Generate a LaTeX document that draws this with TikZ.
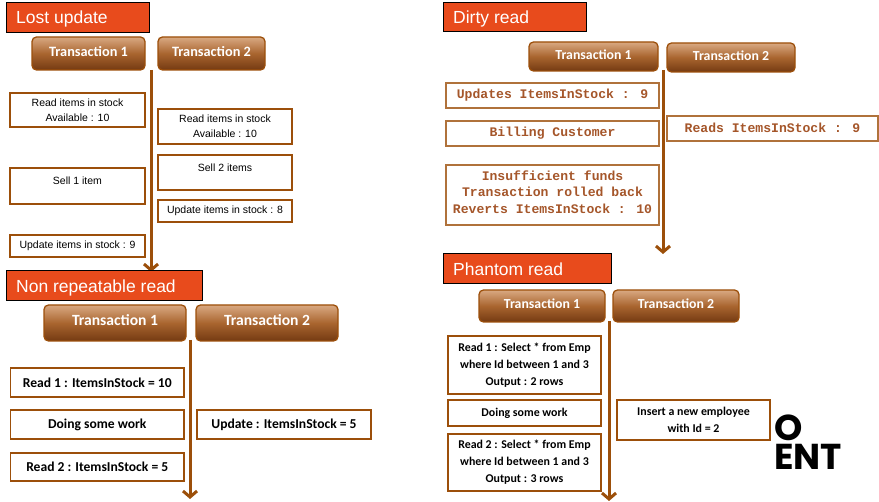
\documentclass[tikz,border=0pt]{standalone}
\usepackage{fontspec}
\setmainfont{Liberation Sans}
\newfontfamily\calib{Carlito}
\newfontfamily\cour{Liberation Mono}
\newfontfamily\logofont{Poppins}
\usetikzlibrary{arrows.meta}
\definecolor{brn}{HTML}{9C4F0A}
\definecolor{ttl}{HTML}{E84B1C}
\definecolor{gtop}{HTML}{D9A982}
\definecolor{gmid}{HTML}{A9652F}
\definecolor{gbot}{HTML}{743A12}
\definecolor{ctext}{HTML}{A5562A}
\tikzset{
  x=1pt,y=-1pt,
  rect/.style={inner sep=0pt,outer sep=0pt,align=center,anchor=center},
  titlebox/.style={rect,draw=black,line width=1pt,fill=ttl},
  txn/.style={rect,draw=brn,line width=1.3pt,rounded corners=4.5pt,top color=gtop,bottom color=gbot,middle color=gmid,text=white,text height=10pt,text depth=4pt,font=\calib\bfseries\fontsize{14.3}{16}\selectfont},
  txnsmall/.style={txn,font=\calib\bfseries\fontsize{13.8}{16}\selectfont},
  txnlarge/.style={txn,font=\calib\bfseries\fontsize{15.6}{16}\selectfont},
  stepa/.style={rect,draw=brn,line width=1.3pt,fill=white,text=black,font=\fontsize{10.5}{15}\selectfont},
  stepb/.style={rect,draw=brn,line width=1.5pt,fill=white,text=black,font=\calib\bfseries\fontsize{13.6}{17}\selectfont},
  stepc/.style={rect,draw=brn!80,line width=1.2pt,fill=white,text=ctext,font=\cour\bfseries\fontsize{13.1}{16.5}\selectfont},
  stepd/.style={rect,draw=brn,line width=1.2pt,fill=white,text=black,font=\calib\bfseries\fontsize{11.9}{17}\selectfont},
  timeline/.style={draw=brn,line width=3pt,-{Straight Barb[length=6pt,width=14pt,line width=3pt]}},
  logotext/.style={anchor=south west,inner sep=0pt,align=left,font=\logofont\bfseries\fontsize{36}{29}\selectfont},
}
% name, x1, y1, x2, y2, style, text
\newcommand{\bx}[7]{\node[#6,minimum width=#4pt-#2pt,minimum height=#5pt-#3pt] (#1) at ({(#2+#4)/2},{(#3+#5)/2}) {#7};}
\newcommand{\ttlbx}[6]{\node[titlebox,minimum width=#4pt-#2pt,minimum height=#5pt-#3pt] (#1) at ({(#2+#4)/2},{(#3+#5)/2}) {};\node[anchor=base west,inner sep=0pt,text=white,font=\fontsize{17.5}{20}\selectfont] (#1t) at (#2+9.5,#5-8.5) {#6};}
\begin{document}
\begin{tikzpicture}
\useasboundingbox (0,0) rectangle (879,502);
% Lost update
\coordinate (a1) at (151,70);
\coordinate (a1e) at (151,272);
\draw[timeline] (a1) -- (a1e);
\ttlbx{t1}{6.5}{2.5}{149}{32.5}{Lost update}
\bx{lu1}{32}{37}{145}{70}{txn}{Transaction 1}
\bx{lu2}{158}{37}{265}{70}{txn}{Transaction 2}
\bx{lua}{10}{93}{145}{127}{stepa}{Read items in stock\\Available : 10}
\bx{lub}{158}{109}{292}{144}{stepa}{Read items in stock\\Available : 10}
\node[stepa,minimum width=135pt,minimum height=36pt] (luc) at (77.5,186) {\raisebox{10pt}{Sell 1 item}};
\node[stepa,minimum width=134pt,minimum height=35pt] (lud) at (225,172.5) {\raisebox{9pt}{Sell 2 items}};
\bx{lue}{158}{200}{292}{222}{stepa}{Update items in stock : 8}
\bx{luf}{10}{235}{145}{257}{stepa}{Update items in stock : 9}
% Non repeatable read
\coordinate (a2) at (190,340);
\coordinate (a2e) at (190,499);
\draw[timeline] (a2) -- (a2e);
\ttlbx{t2}{6.5}{271}{202}{301}{Non repeatable read}
\bx{nr1}{44}{305}{186}{341}{txnlarge}{Transaction 1}
\bx{nr2}{196}{305}{338}{341}{txnlarge}{Transaction 2}
\bx{nra}{10.5}{368}{184}{397}{stepb}{Read 1 : ItemsInStock = 10}
\bx{nrb}{10.5}{410}{184}{439}{stepb}{Doing some work}
\bx{nrc}{10.5}{453}{184}{481}{stepb}{Read 2 : ItemsInStock = 5}
\bx{nrd}{197}{410}{371}{439}{stepb}{Update : ItemsInStock = 5}
% Dirty read
\coordinate (a3) at (663,70);
\coordinate (a3e) at (663,254);
\draw[timeline] (a3) -- (a3e);
\ttlbx{t3}{443.5}{2.5}{586}{32}{Dirty read}
\bx{dr1}{529}{42}{658}{71}{txnsmall}{Transaction 1}
\bx{dr2}{667}{43}{795}{72}{txnsmall}{Transaction 2}
\bx{dra}{446}{83}{659}{108}{stepc}{Updates ItemsInStock : 9}
\bx{drb}{446}{121}{659}{146}{stepc}{Billing Customer}
\bx{drc}{446}{165}{659}{225}{stepc}{\parbox{205pt}{\centering Insufficient funds\\Transaction rolled back\\Reverts ItemsInStock : 10\par\vspace{6pt}}}
\bx{drd}{667}{116}{878}{141}{stepc}{\parbox{205pt}{\centering Reads ItemsInStock : 9\par\vspace{2pt}}}
% Phantom read
\coordinate (a4) at (609,321);
\coordinate (a4e) at (609,501);
\draw[timeline] (a4) -- (a4e);
\ttlbx{t4}{443.5}{253.5}{611}{284}{Phantom read}
\bx{ph1}{479}{290}{605}{322}{txnsmall}{Transaction 1}
\bx{ph2}{613}{290}{739}{322}{txnsmall}{Transaction 2}
\bx{pha}{448}{336}{601}{394}{stepd}{Read 1 : Select * from Emp\\where Id between 1 and 3\\Output : 2 rows}
\bx{phb}{448}{400}{601}{426}{stepd}{Doing some work}
\bx{phc}{448}{434}{601}{491}{stepd}{Read 2 : Select * from Emp\\where Id between 1 and 3\\Output : 3 rows}
\bx{phd}{617}{400}{770}{440}{stepd}{Insert a new employee\\with Id = 2}
% Logo
\node[logotext] (lo) at (774,470) {O\\ENT};
\end{tikzpicture}
\end{document}
